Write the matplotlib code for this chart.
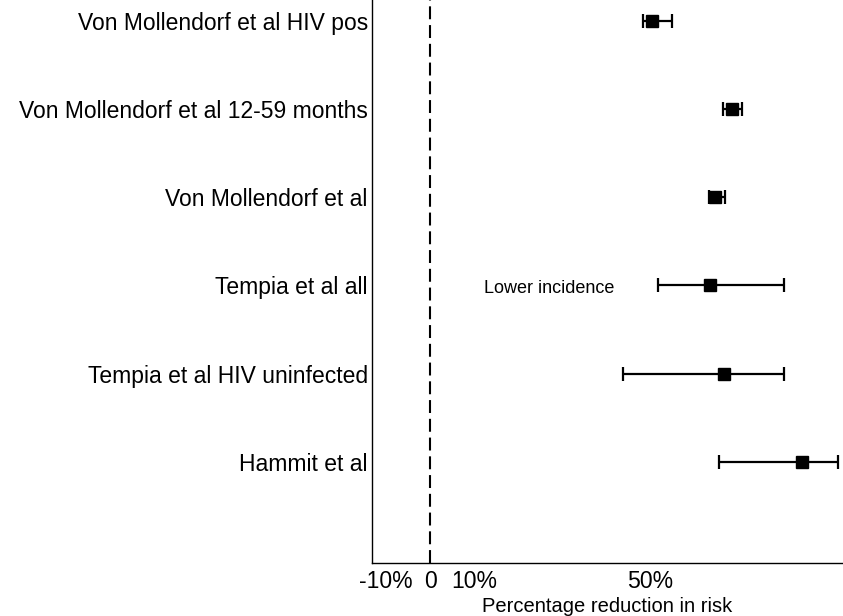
import matplotlib.pyplot as plt

plt.rcParams['font.family'] = ['Liberation Sans', 'DejaVu Sans']

# studies, top to bottom
studies = ["Von Mollendorf et al HIV pos",
           "Von Mollendorf et al 12-59 months",
           "Von Mollendorf et al",
           "Tempia et al all",
           "Tempia et al HIV uninfected",
           "Hammit et al"]
estimate = [50.4, 68.6, 64.8, 63.6, 66.8, 84.5]
lower = [48.4, 66.6, 63.4, 51.8, 43.9, 65.7]
upper = [55.0, 70.9, 67.0, 80.5, 80.5, 92.7]

tick_vals = [-10, 0, 10, 50]
tick_labels = ["-10%", "0", "10%", "50%"]

fig = plt.figure(figsize=(8.43, 6.16), dpi=100)
ax = fig.add_axes([0.4413, 0.086, 0.5587, 0.914])

ypos = list(range(len(studies), 0, -1))
for y, e, lo, hi in zip(ypos, estimate, lower, upper):
    ax.errorbar(e, y, xerr=[[e - lo], [hi - e]], fmt='s', color='black',
                markersize=9, elinewidth=1.6, capsize=5, capthick=1.6)

ax.axvline(0, color='black', linestyle=(0, (6.2, 2.8)), linewidth=1.5)
ax.text(42, 2.97, "Lower incidence", ha='right', va='center', fontsize=13)

ax.set_xlim(-13.2, 93.9)
ax.set_ylim(-0.15, 6.24)
ax.set_yticks(ypos)
ax.set_yticklabels(studies, fontsize=16.5)
ax.set_xticks(tick_vals)
ax.set_xticklabels(tick_labels, fontsize=16.6)
ax.tick_params(axis='y', length=0, pad=3)
ax.tick_params(axis='x', length=0, pad=5)
ax.set_xlabel("Percentage reduction in risk", fontsize=14.5, labelpad=3)

for s in ['top', 'right']:
    ax.spines[s].set_visible(False)
for s in ['left', 'bottom']:
    ax.spines[s].set_linewidth(1.0)

fig.savefig("out.png", dpi=100)
